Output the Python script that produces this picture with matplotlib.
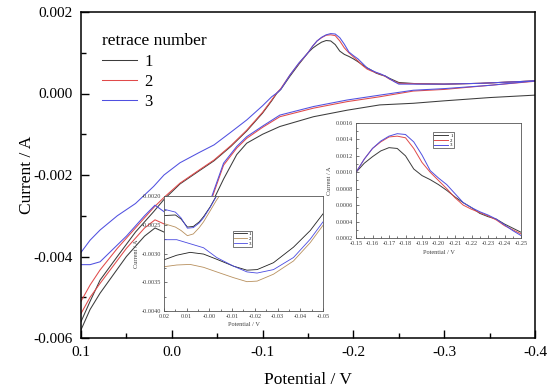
import matplotlib
matplotlib.use("Agg")
import matplotlib.pyplot as plt
from matplotlib.ticker import MultipleLocator, FormatStrFormatter

plt.rcParams['font.family'] = ['Liberation Serif', 'DejaVu Serif']
plt.rcParams['axes.unicode_minus'] = False

labels = ["1", "2", "3"]
main_colors = ["#3c3c3c", "#e04a4a", "#5050e0"]
inset1_colors = ["#202020", "#b8905e", "#4a4ae0"]

# ---- main plot: forward branch (0.1 -> -0.4 V) ----
E_fwd = [0.1, 0.09, 0.079, 0.06, 0.04, 0.02, 0.0086, -0.009, -0.03, -0.0466, -0.065,
         -0.0825, -0.1, -0.11, -0.1155, -0.12, -0.13, -0.14, -0.15, -0.155, -0.16,
         -0.165, -0.17, -0.175, -0.18, -0.185, -0.19, -0.195, -0.2, -0.205, -0.21,
         -0.215, -0.22, -0.225, -0.23, -0.235, -0.24, -0.245, -0.25, -0.27, -0.3,
         -0.34, -0.37, -0.4]
I_fwd_1 = [-0.0056, -0.0051, -0.00458, -0.0040, -0.0034, -0.0029, -0.0026, -0.00222,
           -0.0019, -0.00165, -0.0013, -0.00092, -0.00048, -0.00018, 0.0, 0.0001,
           0.00042, 0.00072, 0.0010, 0.00111, 0.00119, 0.00126, 0.0013, 0.00129,
           0.0012, 0.00104, 0.00096, 0.00091, 0.00085, 0.00078, 0.0007, 0.00063,
           0.00057, 0.0005, 0.00046, 0.00043, 0.00037, 0.00032, 0.00027, 0.00024,
           0.00023, 0.00025, 0.00028, 0.00031]
I_fwd_2 = [-0.0051, -0.0047, -0.00433, -0.0038, -0.0033, -0.0028, -0.00255, -0.0022,
           -0.00188, -0.00163, -0.00128, -0.0009, -0.00046, -0.00016, 0.00001, 0.00012,
           0.00045, 0.00074, 0.0010, 0.00116, 0.00129, 0.00137, 0.00143, 0.00144,
           0.00142, 0.00129, 0.00112, 0.0010, 0.0009, 0.0008, 0.00069, 0.0006,
           0.00055, 0.00051, 0.00047, 0.00042, 0.00035, 0.0003, 0.00025, 0.00024,
           0.00023, 0.00025, 0.00028, 0.00031]
I_fwd_3 = [-0.0039, -0.0036, -0.00335, -0.0030, -0.0027, -0.00228, -0.0020, -0.0017,
           -0.00145, -0.00126, -0.00095, -0.00065, -0.0003, -0.00008, 0.00001, 0.0001,
           0.00045, 0.00075, 0.0010, 0.00116, 0.00129, 0.00138, 0.00144, 0.00147,
           0.00146, 0.00137, 0.00121, 0.00102, 0.00093, 0.00085, 0.00074, 0.00063,
           0.00057, 0.00052, 0.00048, 0.00043, 0.00036, 0.00029, 0.00023, 0.00023,
           0.00023, 0.00025, 0.00028, 0.00031]

# ---- main plot: return branch (-0.4 -> 0.1 V) ----
E_rev = [-0.4, -0.35, -0.3, -0.266, -0.229, -0.193, -0.156, -0.119, -0.1, -0.0825,
         -0.0715, -0.057, -0.044, -0.035, -0.02, -0.005, 0.0086, 0.0185, 0.03, 0.05,
         0.079, 0.09, 0.1]
I_rev_1 = [-0.00004, -0.0001, -0.00018, -0.00024, -0.00028, -0.00041, -0.00057,
           -0.00081, -0.001, -0.00122, -0.0015, -0.0021, -0.0027, -0.0031, -0.0034,
           -0.0035, -0.0034, -0.0033, -0.0035, -0.0040, -0.0049, -0.0053, -0.0058]
I_rev_2 = [0.0003, 0.0002, 0.0001, 0.00006, -0.00008, -0.0002, -0.00036, -0.00057,
           -0.00083, -0.0011, -0.00134, -0.00176, -0.00258, -0.0030, -0.0032, -0.0033,
           -0.0032, -0.0031, -0.0033, -0.0038, -0.00466, -0.0050, -0.0054]
I_rev_3 = [0.00031, 0.0002, 0.00012, 0.00008, -0.00004, -0.00016, -0.00032, -0.00053,
           -0.0008, -0.00106, -0.0013, -0.00171, -0.00253, -0.0029, -0.0031, -0.0031,
           -0.0029, -0.00274, -0.0030, -0.0035, -0.00413, -0.0042, -0.0042]

# ---- inset 1 ----
E_in1_up = [0.02, 0.015, 0.0125, 0.0097, 0.0071, 0.0045, 0.0026, -0.0003, -0.003, -0.006]
I_in1_up_1 = [-0.00234, -0.00233, -0.0024, -0.00254, -0.00253, -0.00245, -0.00236,
              -0.00219, -0.0020, -0.0018]
I_in1_up_2 = [-0.00248, -0.00254, -0.0026, -0.00269, -0.00266, -0.00255, -0.00245,
              -0.00226, -0.00208, -0.0019]
I_in1_up_3 = [-0.00223, -0.00228, -0.00238, -0.00256, -0.00255, -0.00247, -0.00238,
              -0.0022, -0.00201, -0.0018]
E_in1_lo = [0.02, 0.0144, 0.0085, 0.0026, -0.0032, -0.0106, -0.0165, -0.021, -0.0282,
            -0.037, -0.0444, -0.05]
I_in1_lo_1 = [-0.00311, -0.00303, -0.00298, -0.00301, -0.0031, -0.00322, -0.00329,
              -0.00328, -0.00316, -0.00289, -0.0026, -0.00231]
I_in1_lo_2 = [-0.00323, -0.0032, -0.00319, -0.00324, -0.00332, -0.00342, -0.00349,
              -0.00348, -0.00336, -0.00313, -0.00281, -0.00251]
I_in1_lo_3 = [-0.00276, -0.00276, -0.00283, -0.0029, -0.00307, -0.00322, -0.00332,
              -0.00334, -0.00328, -0.00307, -0.00275, -0.00245]

fwd = [I_fwd_1, I_fwd_2, I_fwd_3]
rev = [I_rev_1, I_rev_2, I_rev_3]
in1_up = [I_in1_up_1, I_in1_up_2, I_in1_up_3]
in1_lo = [I_in1_lo_1, I_in1_lo_2, I_in1_lo_3]

W, H = 550, 392
fig = plt.figure(figsize=(5.5, 3.92), dpi=100)


def rect(x0, y0, x1, y1):
    return [x0 / W, 1 - y1 / H, (x1 - x0) / W, (y1 - y0) / H]


ax = fig.add_axes(rect(81, 12, 535, 338))
for i in range(3):
    ax.plot(E_fwd, fwd[i], color=main_colors[i], lw=0.75, label=labels[i])
    ax.plot(E_rev, rev[i], color=main_colors[i], lw=0.75)
ax.set_xlim(0.1, -0.4)
ax.set_ylim(-0.006, 0.002)
ax.xaxis.set_major_locator(MultipleLocator(0.1))
ax.xaxis.set_minor_locator(MultipleLocator(0.05))
ax.yaxis.set_major_locator(MultipleLocator(0.002))
ax.yaxis.set_minor_locator(MultipleLocator(0.001))
ax.xaxis.set_major_formatter(FormatStrFormatter('%.1f'))
ax.yaxis.set_major_formatter(FormatStrFormatter('%.3f'))
ax.tick_params(which='both', direction='in', top=False, right=False, labelsize=11, width=1.0)
ax.tick_params(which='major', length=6, pad=6)
ax.tick_params(which='minor', length=3.5)
for s in ax.spines.values():
    s.set_linewidth(1.1)
ax.set_xlabel("Potential / V", fontsize=12.5, labelpad=9)
ax.set_ylabel("Current / A", fontsize=12.5, labelpad=-1)
leg = ax.legend(title="retrace number", loc='upper left', bbox_to_anchor=(0.025, 0.965),
                frameon=False, fontsize=12, title_fontsize=12.5, handlelength=2.1,
                handletextpad=0.4, labelspacing=0.25, borderaxespad=0.2)
leg._legend_box.align = "left"

# inset 1
a1 = fig.add_axes(rect(164, 196, 323, 311))
a1.set_zorder(5)
a1.set_facecolor('white')
for i in range(3):
    a1.plot(E_in1_up, in1_up[i], color=inset1_colors[i], lw=0.6, label=labels[i])
    a1.plot(E_in1_lo, in1_lo[i], color=inset1_colors[i], lw=0.6)
a1.set_xlim(0.02, -0.05)
a1.set_ylim(-0.004, -0.002)
a1.xaxis.set_major_locator(MultipleLocator(0.01))
a1.xaxis.set_minor_locator(MultipleLocator(0.005))
a1.yaxis.set_major_locator(MultipleLocator(0.0005))
a1.yaxis.set_minor_locator(MultipleLocator(0.00025))
a1.xaxis.set_major_formatter(FormatStrFormatter('%.2f'))
a1.yaxis.set_major_formatter(FormatStrFormatter('%.4f'))
a1.tick_params(which='both', direction='in', labelsize=4.5, width=0.5, pad=2, colors='#404040')
a1.tick_params(which='major', length=2.5)
a1.tick_params(which='minor', length=1.5)
for s in a1.spines.values():
    s.set_linewidth(0.6)
    s.set_color('#555555')
a1.set_xlabel("Potential / V", fontsize=4.5, labelpad=2, color='#404040')
a1.set_ylabel("Current / A", fontsize=4.5, labelpad=2, color='#404040')
l1 = a1.legend(loc='upper left', bbox_to_anchor=(0.42, 0.72), fontsize=3.5,
               handlelength=2.6, handletextpad=0.4, labelspacing=0.1, borderpad=0.2,
               fancybox=False, framealpha=1, edgecolor='#404040')
l1.get_frame().set_linewidth(0.5)

# inset 2 (zoom of the forward branch peak)
a2 = fig.add_axes(rect(356, 123, 521, 238))
a2.set_zorder(5)
a2.set_facecolor('white')
for i in range(3):
    a2.plot(E_fwd, fwd[i], color=main_colors[i], lw=0.7, label=labels[i])
a2.set_xlim(-0.15, -0.25)
a2.set_ylim(0.0002, 0.0016)
a2.xaxis.set_major_locator(MultipleLocator(0.01))
a2.xaxis.set_minor_locator(MultipleLocator(0.005))
a2.yaxis.set_major_locator(MultipleLocator(0.0002))
a2.yaxis.set_minor_locator(MultipleLocator(0.0001))
a2.xaxis.set_major_formatter(FormatStrFormatter('%.2f'))
a2.yaxis.set_major_formatter(FormatStrFormatter('%.4f'))
a2.tick_params(which='both', direction='in', labelsize=4.5, width=0.5, pad=2, colors='#404040')
a2.tick_params(which='major', length=2.5)
a2.tick_params(which='minor', length=1.5)
for s in a2.spines.values():
    s.set_linewidth(0.6)
    s.set_color('#555555')
a2.set_xlabel("Potential / V", fontsize=4.5, labelpad=3, color='#404040')
a2.set_ylabel("Current / A", fontsize=4.5, labelpad=3, color='#404040')
l2 = a2.legend(loc='upper left', bbox_to_anchor=(0.45, 0.94), fontsize=3.5,
               handlelength=3.0, handletextpad=0.4, labelspacing=0.1, borderpad=0.2,
               fancybox=False, framealpha=1, edgecolor='#404040')
l2.get_frame().set_linewidth(0.5)

fig.savefig("out.png", dpi=100)
